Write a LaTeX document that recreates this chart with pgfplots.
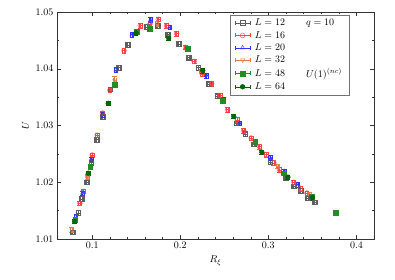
\documentclass[border=0pt]{standalone}
\usepackage{pgfplots}
\pgfplotsset{compat=1.18}
\definecolor{cgray}{RGB}{95,95,95}
\definecolor{cred}{RGB}{255,70,70}
\definecolor{cblue}{RGB}{50,50,255}
\definecolor{corange}{RGB}{225,125,75}
\definecolor{cgreen}{RGB}{35,140,35}
\definecolor{cdgreen}{RGB}{0,100,0}
\begin{document}
\begin{tikzpicture}
\begin{axis}[
  name=ax,
  scale only axis,
  width=317pt, height=227pt,
  xmin=0.06, xmax=0.42, ymin=1.01, ymax=1.05,
  xtick={0.1,0.2,0.3,0.4}, ytick={1.01,1.02,1.03,1.04,1.05},
  minor x tick num=4, minor y tick num=1,
  tick align=inside, tick pos=both,
  major tick length=4pt, minor tick length=2pt,
  scaled ticks=false,
  yticklabel style={/pgf/number format/.cd, fixed, fixed zerofill, precision=2},
  xticklabel style={/pgf/number format/.cd, fixed, precision=1},
  axis line style={black!80}, every tick/.style={black!80},
  xlabel={$R_\xi$}, ylabel={$U$},
  mark size=2.4pt,
  legend columns=2,
  legend cell align=left,
  legend style={at={(0.546,0.988)}, anchor=north west, draw=black!55,
    inner xsep=5pt, inner ysep=2pt,
    /tikz/every odd column/.append style={column sep=3pt},
    /tikz/every even column/.append style={column sep=14pt}},
  legend image code/.code={%
    \draw[#1,mark=none,solid] (0cm,0cm) -- (0.5cm,0cm);
    \draw[#1,mark=none,solid] (0cm,-2pt) -- (0cm,2pt);
    \draw[#1,mark=none,solid] (0.5cm,-2pt) -- (0.5cm,2pt);
    \draw[#1] plot coordinates {(0.25cm,0cm)};
  },
]
% L=12
\addplot[cgray, only marks, mark=square, forget plot,
  error bars/.cd, x dir=both, x fixed=0.0018, y dir=both, y fixed=0.0004] coordinates {
(0.0776,1.0112) (0.0841,1.0146) (0.0883,1.0171) (0.0935,1.0200) (0.0989,1.0235)
(0.1049,1.0275) (0.1117,1.0315) (0.1205,1.0364) (0.1299,1.0402) (0.1402,1.0442)
(0.1622,1.0474) (0.1743,1.0476) (0.1857,1.0460) (0.1982,1.0444) (0.2096,1.0420)
(0.2203,1.0402) (0.2323,1.0373) (0.2419,1.0352) (0.2635,1.0304) (0.2737,1.0285)
(0.2835,1.0267) (0.3022,1.0236) (0.3196,1.0207) (0.3287,1.0193) (0.3363,1.0185)
(0.3449,1.0172) (0.3526,1.0165)
};
% L=16
\addplot[cred, only marks, mark=o, forget plot,
  error bars/.cd, x dir=both, x fixed=0.0018, y dir=both, y fixed=0.0004] coordinates {
(0.0860,1.0163) (0.0898,1.0184) (0.0947,1.0210) (0.1000,1.0248) (0.1057,1.0283)
(0.1117,1.0322) (0.1201,1.0362) (0.1361,1.0432) (0.1546,1.0476) (0.1656,1.0479)
(0.1751,1.0487) (0.1845,1.0476) (0.1959,1.0462) (0.2058,1.0438) (0.2157,1.0413)
(0.2248,1.0391) (0.2357,1.0374) (0.2453,1.0353) (0.2539,1.0328) (0.2646,1.0310)
(0.2721,1.0291) (0.2805,1.0278) (0.2900,1.0263) (0.2976,1.0249) (0.3063,1.0234)
(0.3127,1.0222) (0.3290,1.0200) (0.3363,1.0189) (0.3438,1.0181)
};
% L=20
\addplot[cblue, only marks, mark=triangle, forget plot,
  error bars/.cd, x dir=both, x fixed=0.0018, y dir=both, y fixed=0.0004] coordinates {
(0.0815,1.0139) (0.0890,1.0181) (0.0992,1.0241) (0.1117,1.0319) (0.1270,1.0398)
(0.1452,1.0460) (0.1663,1.0486) (0.1884,1.0473) (0.2297,1.0388) (0.2490,1.0345)
(0.2672,1.0304) (0.3022,1.0243) (0.3184,1.0219) (0.3336,1.0196)
};
% L=32
\addplot[corange, only marks, mark=triangle, mark options={rotate=180}, forget plot,
  error bars/.cd, x dir=both, x explicit, y dir=both, y explicit] coordinates {
(0.0769,1.0116) +- (0.0018,0.0004)
(0.0947,1.0210) +- (0.0018,0.0004)
(0.1254,1.0379) +- (0.0018,0.0007)
(0.1736,1.0479) +- (0.0018,0.0004)
(0.2237,1.0396) +- (0.0018,0.0004)
(0.3108,1.0228) +- (0.0018,0.0004)
(0.3469,1.0179) +- (0.0018,0.0004)
};
% L=48
\addplot[cgreen, only marks, mark=square*, forget plot,
  error bars/.cd, x dir=both, x fixed=0.0018, y dir=both, y fixed=0.0004] coordinates {
(0.0807,1.0134) (0.0977,1.0228) (0.1254,1.0372) (0.1509,1.0465) (0.1652,1.0470)
(0.2081,1.0435) (0.2483,1.0343) (0.2851,1.0271) (0.3173,1.0216) (0.3488,1.0175)
(0.3761,1.0146)
};
% L=64
\addplot[cdgreen, only marks, mark=*, forget plot,
  error bars/.cd, x dir=both, x fixed=0.0018, y dir=both, y fixed=0.0004] coordinates {
(0.0799,1.0131) (0.0955,1.0216) (0.1182,1.0339) (0.1497,1.0463) (0.1868,1.0454)
(0.2255,1.0397) (0.2607,1.0316) (0.2926,1.0253) (0.3222,1.0209) (0.3499,1.0173)
};
\addlegendimage{cgray, mark=square}
\addlegendentry{$L=12$}
\addlegendimage{empty legend}
\addlegendentry{$q=10$}
\addlegendimage{cred, mark=o}
\addlegendentry{$L=16$}
\addlegendimage{empty legend}
\addlegendentry{}
\addlegendimage{cblue, mark=triangle}
\addlegendentry{$L=20$}
\addlegendimage{empty legend}
\addlegendentry{}
\addlegendimage{corange, mark=triangle, mark options={rotate=180}}
\addlegendentry{$L=32$}
\addlegendimage{empty legend}
\addlegendentry{}
\addlegendimage{cgreen, mark=square*}
\addlegendentry{$L=48$}
\addlegendimage{empty legend}
\addlegendentry{$U(1)^{(nc)}$}
\addlegendimage{cdgreen, mark=*}
\addlegendentry{$L=64$}
\end{axis}
\path ([xshift=-57pt,yshift=-41pt]ax.south west) rectangle ([xshift=21pt,yshift=12pt]ax.north east);
\end{tikzpicture}
\end{document}
